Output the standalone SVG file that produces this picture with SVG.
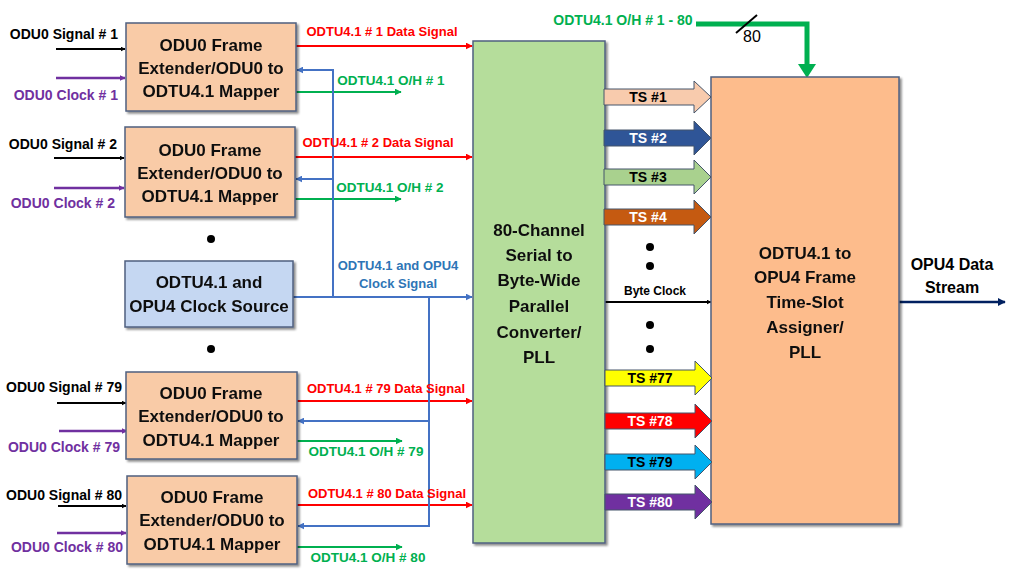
<svg xmlns="http://www.w3.org/2000/svg" width="1024" height="576" viewBox="0 0 1024 576">
<defs>
<style>
text{font-family:"Liberation Sans",Arial,sans-serif;font-weight:bold}
.bt{font-size:17px;fill:#111;text-anchor:middle}
.lbl{font-size:14px;fill:#000;text-anchor:end}
.clk{font-size:14px;fill:#7030A0;text-anchor:end}
.red{font-size:13px;fill:#FF0000;text-anchor:middle}
.grn{font-size:13.5px;fill:#00B050;text-anchor:middle}
.blu{font-size:13px;fill:#2E75B6;text-anchor:middle}
.ts{font-size:14px;text-anchor:middle}
.box{stroke:#4F6080;stroke-width:1.5}
.map{fill:#F9CBA7}
.lk{stroke:#000;stroke-width:2;fill:none}
.lp{stroke:#7030A0;stroke-width:2.5;fill:none}
.lr{stroke:#FF0000;stroke-width:2;fill:none}
.lg{stroke:#00B050;stroke-width:2;fill:none}
.lb{stroke:#4472C4;stroke-width:2;fill:none}
</style>
<filter id="sh" x="-10%" y="-10%" width="120%" height="120%">
<feDropShadow dx="2" dy="2" stdDeviation="1.2" flood-color="#000" flood-opacity="0.45"/>
</filter>
<marker id="ak" viewBox="0 0 10 10" refX="9" refY="5" markerWidth="5" markerHeight="5" orient="auto" markerUnits="userSpaceOnUse"><path d="M0,0L10,5L0,10z" fill="#000"/></marker>
<marker id="ap" viewBox="0 0 10 10" refX="9" refY="5" markerWidth="6" markerHeight="6" orient="auto" markerUnits="userSpaceOnUse"><path d="M0,0L10,5L0,10z" fill="#7030A0"/></marker>
<marker id="ar" viewBox="0 0 10 10" refX="9" refY="5" markerWidth="7" markerHeight="7" orient="auto" markerUnits="userSpaceOnUse"><path d="M0,0L10,5L0,10z" fill="#FF0000"/></marker>
<marker id="ag" viewBox="0 0 10 10" refX="9" refY="5" markerWidth="7" markerHeight="7" orient="auto" markerUnits="userSpaceOnUse"><path d="M0,0L10,5L0,10z" fill="#00B050"/></marker>
<marker id="ab" viewBox="0 0 10 10" refX="9" refY="5" markerWidth="7" markerHeight="7" orient="auto" markerUnits="userSpaceOnUse"><path d="M0,0L10,5L0,10z" fill="#4472C4"/></marker>
<marker id="an" viewBox="0 0 10 10" refX="9" refY="5" markerWidth="8" markerHeight="8" orient="auto" markerUnits="userSpaceOnUse"><path d="M0,0L10,5L0,10z" fill="#002060"/></marker>
</defs>
<rect width="1024" height="576" fill="#fff"/>

<g id="connectors">
<line class="lk" x1="56" y1="49" x2="125" y2="49" marker-end="url(#ak)"/>
<line class="lp" x1="56" y1="78" x2="125" y2="78" marker-end="url(#ap)"/>
<line class="lk" x1="54" y1="158" x2="124" y2="158" marker-end="url(#ak)"/>
<line class="lp" x1="54" y1="188" x2="124" y2="188" marker-end="url(#ap)"/>
<line class="lk" x1="57" y1="403" x2="126" y2="403" marker-end="url(#ak)"/>
<line class="lp" x1="59" y1="431" x2="127" y2="431" marker-end="url(#ap)"/>
<line class="lk" x1="58" y1="506" x2="126" y2="506" marker-end="url(#ak)"/>
<line class="lp" x1="57" y1="533" x2="126" y2="533" marker-end="url(#ap)"/>
<line class="lr" x1="296" y1="46" x2="472" y2="46" marker-end="url(#ar)"/>
<line class="lr" x1="295" y1="157" x2="472" y2="157" marker-end="url(#ar)"/>
<line class="lr" x1="297" y1="401" x2="472" y2="401" marker-end="url(#ar)"/>
<line class="lr" x1="297" y1="505" x2="472" y2="505" marker-end="url(#ar)"/>
<line class="lg" x1="296" y1="92" x2="401" y2="92" marker-end="url(#ag)"/>
<line class="lg" x1="295" y1="199" x2="401" y2="199" marker-end="url(#ag)"/>
<line class="lg" x1="297" y1="441" x2="402" y2="441" marker-end="url(#ag)"/>
<line class="lg" x1="297" y1="547" x2="402" y2="547" marker-end="url(#ag)"/>
<line class="lb" x1="293" y1="297" x2="472" y2="297" marker-end="url(#ab)"/>
<polyline class="lb" points="333,297 333,70 297,70" marker-end="url(#ab)"/>
<line class="lb" x1="333" y1="179" x2="296" y2="179" marker-end="url(#ab)"/>
<polyline class="lb" points="429,297 429,526 298,526" marker-end="url(#ab)"/>
<line class="lb" x1="429" y1="421" x2="298" y2="421" marker-end="url(#ab)"/>
<polyline points="696,24 807,24 807,66" fill="none" stroke="#00B050" stroke-width="5"/>
<path d="M798,64L816,64L807,78z" fill="#00B050"/>
<line x1="736" y1="33" x2="757" y2="15" stroke="#000" stroke-width="2"/>
<line class="lk" x1="605" y1="302" x2="711" y2="302" marker-end="url(#ak)"/>
<line x1="899" y1="302" x2="1005" y2="302" stroke="#002060" stroke-width="2.5" marker-end="url(#an)"/>
</g>

<g id="labels">
<text class="lbl" x="118" y="39">ODU0 Signal # 1</text>
<text class="clk" x="118" y="100">ODU0 Clock # 1</text>
<text class="lbl" x="117" y="149">ODU0 Signal # 2</text>
<text class="clk" x="115" y="208">ODU0 Clock # 2</text>
<text class="lbl" x="122" y="392">ODU0 Signal # 79</text>
<text class="clk" x="120" y="452">ODU0 Clock # 79</text>
<text class="lbl" x="122" y="500">ODU0 Signal # 80</text>
<text class="clk" x="123" y="552">ODU0 Clock # 80</text>
<text class="red" x="382" y="36">ODTU4.1 # 1 Data Signal</text>
<text class="red" x="378" y="147">ODTU4.1 # 2 Data Signal</text>
<text class="red" x="386" y="393">ODTU4.1 # 79 Data Signal</text>
<text class="red" x="387" y="498">ODTU4.1 # 80 Data Signal</text>
<text class="grn" x="391" y="85">ODTU4.1 O/H # 1</text>
<text class="grn" x="390" y="192">ODTU4.1 O/H # 2</text>
<text class="grn" x="366" y="456">ODTU4.1 O/H # 79</text>
<text class="grn" x="368" y="562">ODTU4.1 O/H # 80</text>
<text class="blu" x="398" y="270">ODTU4.1 and OPU4</text>
<text class="blu" x="398" y="288">Clock Signal</text>
<text class="grn" x="623" y="25" style="font-size:14px">ODTU4.1 O/H # 1 - 80</text>
<text x="743" y="42" style="font-size:16px;font-weight:normal;fill:#000">80</text>
<text x="655" y="295" style="font-size:12px;fill:#000;text-anchor:middle">Byte Clock</text>
<text x="952" y="270" style="font-size:16px;fill:#000;text-anchor:middle">OPU4 Data</text>
<text x="952" y="293" style="font-size:16px;fill:#000;text-anchor:middle">Stream</text>
<circle cx="211" cy="239" r="4" fill="#000"/>
<circle cx="211" cy="349" r="4" fill="#000"/>
<circle cx="650" cy="247" r="4" fill="#000"/>
<circle cx="650" cy="266" r="4" fill="#000"/>
<circle cx="650" cy="325" r="4" fill="#000"/>
<circle cx="650" cy="349" r="4" fill="#000"/>
</g>

<g id="mapper1" filter="url(#sh)">
<rect class="box map" x="126" y="23" width="170" height="88"/>
<text class="bt" x="211" y="51">ODU0 Frame</text>
<text class="bt" x="211" y="74">Extender/ODU0 to</text>
<text class="bt" x="211" y="97">ODTU4.1 Mapper</text>
</g>
<g id="mapper2" filter="url(#sh)">
<rect class="box map" x="125" y="127" width="170" height="90"/>
<text class="bt" x="210" y="156">ODU0 Frame</text>
<text class="bt" x="210" y="179">Extender/ODU0 to</text>
<text class="bt" x="210" y="202">ODTU4.1 Mapper</text>
</g>
<g id="clocksource" filter="url(#sh)">
<rect class="box" x="125" y="261" width="168" height="66" fill="#C5D7F2"/>
<text class="bt" x="209" y="288">ODTU4.1 and</text>
<text class="bt" x="209" y="312">OPU4 Clock Source</text>
</g>
<g id="mapper79" filter="url(#sh)">
<rect class="box map" x="126" y="372" width="171" height="87"/>
<text class="bt" x="211" y="399">ODU0 Frame</text>
<text class="bt" x="211" y="422">Extender/ODU0 to</text>
<text class="bt" x="211" y="446">ODTU4.1 Mapper</text>
</g>
<g id="mapper80" filter="url(#sh)">
<rect class="box map" x="127" y="476" width="170" height="88"/>
<text class="bt" x="212" y="503">ODU0 Frame</text>
<text class="bt" x="212" y="526">Extender/ODU0 to</text>
<text class="bt" x="212" y="550">ODTU4.1 Mapper</text>
</g>
<g id="converter" filter="url(#sh)">
<rect class="box" x="473" y="41" width="132" height="502" fill="#B5DD9B"/>
<text class="bt" x="539" y="236">80-Channel</text>
<text class="bt" x="539" y="261">Serial to</text>
<text class="bt" x="539" y="286">Byte-Wide</text>
<text class="bt" x="539" y="312">Parallel</text>
<text class="bt" x="539" y="338">Converter/</text>
<text class="bt" x="539" y="363">PLL</text>
</g>
<g id="assigner" filter="url(#sh)">
<rect class="box" x="711" y="77" width="188" height="447" fill="#FDBC8C"/>
<text class="bt" x="805" y="259">ODTU4.1 to</text>
<text class="bt" x="805" y="283">OPU4 Frame</text>
<text class="bt" x="805" y="308">Time-Slot</text>
<text class="bt" x="805" y="333">Assigner/</text>
<text class="bt" x="805" y="358">PLL</text>
</g>

<g id="timeslots" stroke="#44546A" stroke-width="1">
<g id="ts1"><path d="M604,89H694V81L711,97L694,113V105H604Z" fill="#F8CBAD"/><text class="ts" x="648" y="102" fill="#000" stroke="none">TS #1</text></g>
<g id="ts2"><path d="M604,130H694V121L711,138L694,155V146H604Z" fill="#2F5597"/><text class="ts" x="648" y="143" fill="#fff" stroke="none">TS #2</text></g>
<g id="ts3"><path d="M604,169H694V160L711,177L694,194V185H604Z" fill="#A9D18E"/><text class="ts" x="648" y="182" fill="#000" stroke="none">TS #3</text></g>
<g id="ts4"><path d="M604,209H694V200L711,217L694,234V225H604Z" fill="#C55A11"/><text class="ts" x="648" y="222" fill="#fff" stroke="none">TS #4</text></g>
<g id="ts77"><path d="M605,370H695V361L712,378L695,395V386H605Z" fill="#FFFF00"/><text class="ts" x="650" y="383" fill="#000" stroke="none">TS #77</text></g>
<g id="ts78"><path d="M605,413H695V404L712,421L695,438V429H605Z" fill="#FF0000"/><text class="ts" x="650" y="426" fill="#fff" stroke="none">TS #78</text></g>
<g id="ts79"><path d="M605,454H695V445L712,462L695,479V470H605Z" fill="#00B0F0"/><text class="ts" x="650" y="467" fill="#000" stroke="none">TS #79</text></g>
<g id="ts80"><path d="M605,494H695V485L712,502L695,519V510H605Z" fill="#7030A0"/><text class="ts" x="650" y="507" fill="#fff" stroke="none">TS #80</text></g>
</g>
</svg>
